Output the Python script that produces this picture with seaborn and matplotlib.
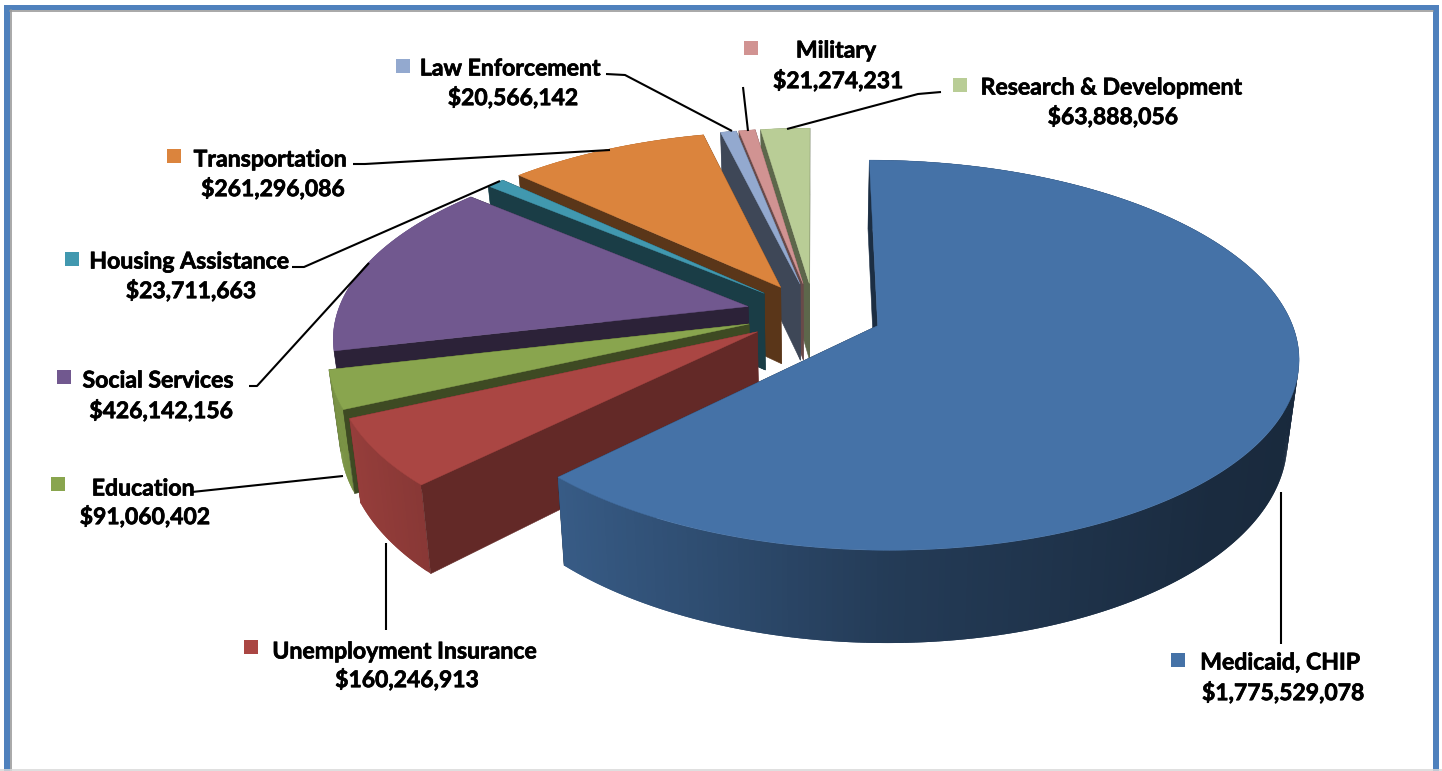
import numpy as np
import pandas as pd
import matplotlib
matplotlib.use("Agg")
import matplotlib.pyplot as plt
from matplotlib.collections import PolyCollection
from matplotlib.colors import to_rgb
import matplotlib.patheffects as pe
import seaborn as sns

# Federal funds by programme area, clockwise from twelve o'clock
categories = ["Medicaid, CHIP", "Unemployment Insurance", "Education", "Social Services",
              "Housing Assistance", "Transportation", "Law Enforcement", "Military",
              "Research & Development"]
amounts = [1775529078, 160246913, 91060402, 426142156, 23711663, 261296086, 20566142,
           21274231, 63888056]

# Styling per slice
top_colors = ["#4572A7", "#AA4643", "#89A54E", "#71588F", "#4198AF", "#DB843D", "#93A9CF",
              "#D19392", "#B9CD96"]
wall_shade = [0.40, 0.58, 0.45, 0.39, 0.40, 0.41, 0.42, 0.50, 0.50]

# Label layout: name centre, amount centre, legend key centre, leader path
name_xy = [(1280, 663), (404, 652), (143, 489), (158, 381), (189, 262), (270, 160),
           (510, 69), (836, 51), (1111, 88)]
amount_xy = [(1283, 693), (407, 680), (145, 517), (161, 411), (191, 291), (273, 189),
             (513, 98), (838, 81), (1113, 117)]
key_xy = [(1178, 660), (251, 647), (58, 484), (64, 377), (72, 259), (174, 156),
          (403, 66), (751, 48), (960, 85)]
leaders = [[(1281, 644), (1281, 492)],
           [(386, 630), (386, 543)],
           [(192, 492), (343, 476)],
           [(249, 386), (257, 386), (369, 263)],
           [(292, 267), (304, 267), (500, 181)],
           [(353, 164), (365, 164), (610, 150)],
           [(606, 74), (625, 75), (732, 131)],
           [(743, 87), (748, 131)],
           [(941, 92), (918, 94), (787, 129)]]

# Projection of the tilted pie onto the canvas
CX, CY = 814.0, 313.7
RX, RY = 411.0, 187.0
PERSPECTIVE = 0.15
THICKNESS = 78.0
BASE_SHRINK = 0.024
EXPLODE = 0.166


def project(u, v, z=0.0):
    scale = 1.0 / (1.0 - PERSPECTIVE * np.asarray(v))
    x = CX + RX * np.asarray(u) * scale * (1.0 - BASE_SHRINK * z)
    y = CY + (RY * np.asarray(v) + THICKNESS * z) * scale
    return x, y


def rim_shade(u):
    return np.interp(u, [-1.0, -0.7, 0.0, 0.7, 1.0], [0.92, 0.80, 0.52, 0.38, 0.36])


def radial_wall(ax, angle, ou, ov, color):
    ru, rv = ou + np.sin(angle), ov - np.cos(angle)
    xt, yt = project([ou, ru], [ov, rv])
    xb, yb = project([ou, ru], [ov, rv], 1.0)
    ax.fill([xt[0], xt[1], xb[1], xb[0]], [yt[0], yt[1], yb[1], yb[0]], color=color, lw=0.4)


def draw_slice(ax, start, stop, color, shade):
    mid = 0.5 * (start + stop)
    ou, ov = EXPLODE * np.sin(mid), -EXPLODE * np.cos(mid)
    theta = np.linspace(start, stop, max(int(np.degrees(stop - start) * 1.5), 4))
    u, v = ou + np.sin(theta), ov - np.cos(theta)
    rgb = np.array(to_rgb(color))

    radial_wall(ax, stop, ou, ov, rgb * shade)

    # outer rim: overlapping facets so the shading can change around the pie without seams
    xt, yt = project(u, v)
    xb, yb = project(u, v, 1.0)
    last = len(u) - 1
    facets = [[(xt[i], yt[i]), (xt[min(i + 2, last)], yt[min(i + 2, last)]),
               (xb[min(i + 2, last)], yb[min(i + 2, last)]), (xb[i], yb[i])]
              for i in range(last)]
    shades = rim_shade(np.sin(0.5 * (theta[:-1] + theta[1:])))
    ax.add_collection(PolyCollection(facets, facecolors=[rgb * s for s in shades],
                                     edgecolors="none", linewidths=0))

    # the leading wall faces the viewer, so it sits over the rim
    radial_wall(ax, start, ou, ov, rgb * shade)

    # top face
    px, py = project(ou, ov)
    ax.fill(np.r_[px, xt], np.r_[py, yt], color=rgb, lw=0.3)


sns.set_theme(style="white")
plt.rcParams["font.family"] = ["Lato", "DejaVu Sans"]

fig = plt.figure(figsize=(14.42, 7.71), dpi=100, facecolor="white")
ax = fig.add_axes([0, 0, 1, 1])
ax.set_xlim(0, 1442)
ax.set_ylim(771, 0)
ax.axis("off")

# Frame of the panel
frame_blue = "#4F81BD"
ax.fill([4, 10, 10, 4], [5, 5, 771, 771], color=frame_blue, lw=0)
ax.fill([1433, 1439, 1439, 1433], [5, 5, 771, 771], color=frame_blue, lw=0)
ax.fill([4, 1439, 1439, 4], [5, 5, 10, 10], color=frame_blue, lw=0)
ax.plot([10.5, 10.5], [10, 771], color="#9A9A9A", lw=1.2)
ax.plot([10, 1433], [10.7, 10.7], color="#9A9A9A", lw=1.2)
ax.plot([0, 1442], [770.3, 770.3], color="#D9D9D9", lw=1.2)

# Slices run clockwise; the far ones are painted first so nearer ones overlap them
values = np.array(amounts, dtype=float)
edges = np.r_[0.0, np.cumsum(values)] / values.sum() * 2 * np.pi
for i in reversed(range(len(values))):
    draw_slice(ax, edges[i], edges[i + 1], top_colors[i], wall_shade[i])

# Leader lines
for path in leaders:
    xs, ys = zip(*path)
    ax.plot(xs, ys, color="black", lw=1.5, solid_capstyle="butt", zorder=5)

# Legend keys
keys = pd.DataFrame({"x": [p[0] for p in key_xy], "y": [p[1] for p in key_xy], "name": categories})
sns.scatterplot(data=keys, x="x", y="y", hue="name", palette=top_colors, marker="s", s=105,
                linewidth=0, legend=False, ax=ax, zorder=6)
ax.set_xlim(0, 1442)
ax.set_ylim(771, 0)

# Labels, with a hairline stroke to carry the heavier lettering
heavy = [pe.withStroke(linewidth=0.5, foreground="black")]
for name, amount, nxy, axy in zip(categories, amounts, name_xy, amount_xy):
    ax.text(*nxy, name, ha="center", va="center", fontsize=16.6, fontweight="bold",
            color="black", zorder=7, path_effects=heavy)
    ax.text(*axy, f"${amount:,}", ha="center", va="center", fontsize=16.5, fontweight="bold",
            color="black", zorder=7, path_effects=heavy)

fig.savefig("out.png", dpi=100, facecolor="white")
